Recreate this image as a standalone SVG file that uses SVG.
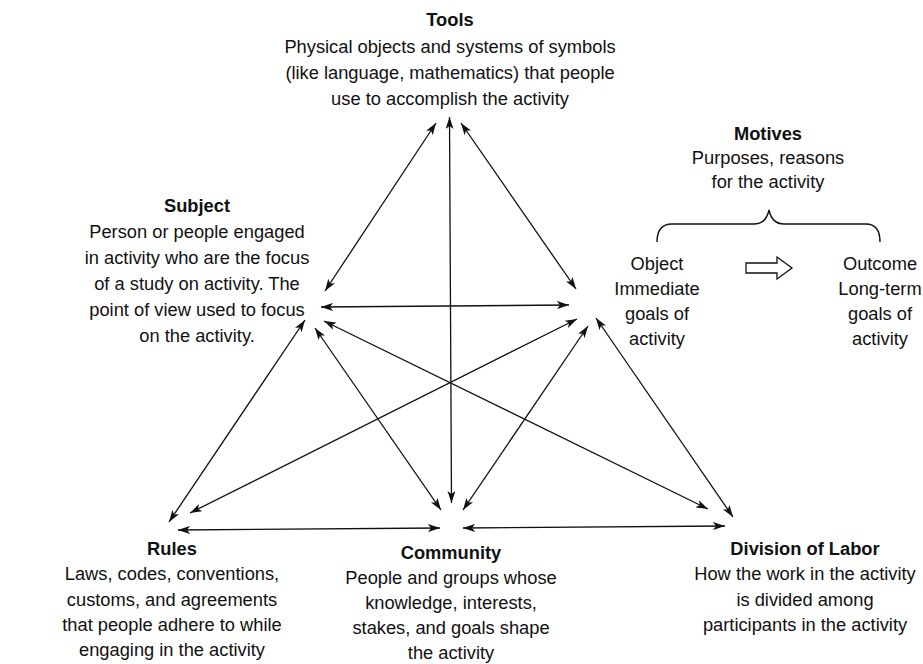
<svg xmlns="http://www.w3.org/2000/svg" width="923" height="664" viewBox="0 0 923 664">
<style>
text{font-family:"Liberation Sans",Arial,sans-serif;font-size:18.3px;fill:#111;text-anchor:middle}
.t{font-weight:bold}
.c line{stroke:#111;stroke-width:1.3;marker-start:url(#ah);marker-end:url(#ah)}
</style>
<defs>
<marker id="ah" viewBox="0 0 12 8" refX="12" refY="4" markerWidth="12" markerHeight="8" markerUnits="userSpaceOnUse" orient="auto-start-reverse">
<path d="M0,0 L12,4 L0,8 L3,4 z" fill="#111"/>
</marker>
</defs>
<rect width="923" height="664" fill="#fff"/>
<g id="tools">
<text x="450" y="26" class="t">Tools</text>
<text x="450" y="53">Physical objects and systems of symbols</text>
<text x="450" y="79">(like language, mathematics) that people</text>
<text x="450" y="105">use to accomplish the activity</text>
</g>
<g id="subject">
<text x="197" y="212" class="t">Subject</text>
<text x="197" y="238">Person or people engaged</text>
<text x="197" y="264">in activity who are the focus</text>
<text x="197" y="290">of a study on activity. The</text>
<text x="197" y="316">point of view used to focus</text>
<text x="197" y="342">on the activity.</text>
</g>
<g id="motives">
<text x="768" y="140" class="t">Motives</text>
<text x="768" y="164">Purposes, reasons</text>
<text x="768" y="188">for the activity</text>
<path d="M657,242 Q657,224 672,224 L754,224 Q766,224 769,210 Q772,224 784,224 L866,224 Q880,224 880,242" fill="none" stroke="#111" stroke-width="1.4"/>
</g>
<g id="object">
<text x="657" y="270">Object</text>
<text x="657" y="295">Immediate</text>
<text x="657" y="320">goals of</text>
<text x="657" y="345">activity</text>
</g>
<g id="transition">
<path d="M746,263 L777,263 L777,257 L792,268 L777,279 L777,273 L746,273 Z" fill="#fff" stroke="#111" stroke-width="1.3"/>
</g>
<g id="outcome">
<text x="880" y="270">Outcome</text>
<text x="880" y="295">Long-term</text>
<text x="880" y="320">goals of</text>
<text x="880" y="345">activity</text>
</g>
<g id="rules">
<text x="172" y="555" class="t">Rules</text>
<text x="172" y="580">Laws, codes, conventions,</text>
<text x="172" y="606">customs, and agreements</text>
<text x="172" y="631">that people adhere to while</text>
<text x="172" y="656">engaging in the activity</text>
</g>
<g id="community">
<text x="451" y="559" class="t">Community</text>
<text x="451" y="584">People and groups whose</text>
<text x="451" y="609">knowledge, interests,</text>
<text x="451" y="634">stakes, and goals shape</text>
<text x="451" y="659">the activity</text>
</g>
<g id="division">
<text x="805" y="555" class="t">Division of Labor</text>
<text x="805" y="580">How the work in the activity</text>
<text x="805" y="606">is divided among</text>
<text x="805" y="631">participants in the activity</text>
</g>
<g id="connectors" class="c">
<line x1="436" y1="123" x2="325" y2="291"/>
<line x1="449.5" y1="117" x2="451.5" y2="503"/>
<line x1="461" y1="123" x2="576" y2="289"/>
<line x1="321" y1="307" x2="569" y2="305"/>
<line x1="305" y1="320" x2="169" y2="522"/>
<line x1="315" y1="328" x2="441" y2="510"/>
<line x1="324" y1="321" x2="708" y2="509"/>
<line x1="577" y1="319" x2="190" y2="513"/>
<line x1="588" y1="326" x2="463" y2="510"/>
<line x1="596" y1="318" x2="733" y2="517"/>
<line x1="178" y1="530" x2="440" y2="528"/>
<line x1="463" y1="528" x2="725" y2="526"/>
</g>
</svg>
